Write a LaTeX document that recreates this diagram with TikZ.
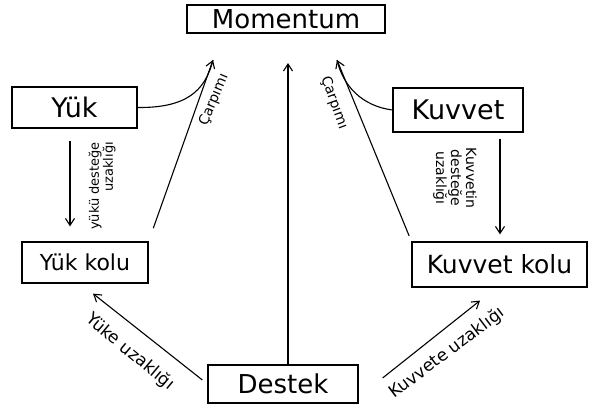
\documentclass[tikz,border=0pt]{standalone}
\usepackage{fontspec}
\setmainfont{DejaVu Sans}
\usetikzlibrary{arrows.meta}
\begin{document}
\begin{tikzpicture}[x=1pt,y=-1pt,
  box/.style={draw,line width=1.2pt,inner sep=0pt,anchor=center},
  arr/.style={line width=1.1pt,-{Straight Barb[length=7pt,width=9pt,line width=1.1pt]}},
  ln/.style={line width=1.1pt},
  lbl/.style={inner sep=0pt,font=\fontsize{13}{14}\selectfont}]
\useasboundingbox (0,0) rectangle (589,410);
\fill[white] (0,0) rectangle (589,410);
% boxes
\node[box,minimum width=198pt,minimum height=28pt,font=\fontsize{26}{27}\selectfont] (mom) at (286,19) {Momentum};
\node[box,minimum width=125pt,minimum height=41pt,font=\fontsize{27}{28}\selectfont] (yuk) at (74.5,107.5) {Yük};
\node[box,minimum width=130pt,minimum height=44pt,font=\fontsize{27}{28}\selectfont] (kuv) at (458,110) {Kuvvet};
\node[box,minimum width=126pt,minimum height=41pt,font=\fontsize{22}{23}\selectfont] (yukk) at (85,262.5) {Yük kolu};
\node[box,minimum width=175pt,minimum height=45pt,font=\fontsize{25}{26}\selectfont] (kuvk) at (499.5,264.5) {Kuvvet kolu};
\node[box,minimum width=150pt,minimum height=38pt,font=\fontsize{26}{27}\selectfont] (destek) at (283,384) {Destek};
% tips
\coordinate (tipC) at (288,63);
\coordinate (tipL) at (213,60);
\coordinate (tipR) at (337,60);
% central
\draw[arr] (destek.north -| tipC) -- (tipC);
% left product
\draw[arr,shorten <=14pt] (yukk.north east) -- (tipL);
\draw[ln] (yuk.east) .. controls (185,108) and (205,92) .. (tipL);
% right product
\draw[arr,shorten <=6pt] (kuvk.north west) -- (tipR);
\draw[ln] (kuv.west) .. controls (362,106) and (343,86) .. (tipR);
% down arrows
\draw[arr,shorten <=12pt,shorten >=15pt] ([xshift=-4.5pt]yuk.south) -- ([xshift=-4.5pt]yuk.south |- yukk.north);
\draw[arr,shorten <=6pt,shorten >=7pt] ([xshift=42pt]kuv.south) -- ([xshift=42pt]kuv.south |- kuvk.north);
% bottom arrows
\draw[arr] ([shift={(-5pt,4pt)}]destek.west) -- ([shift={(8pt,-10pt)}]yukk.south);
\draw[arr] ([shift={(24pt,6pt)}]destek.east) -- ([shift={(-19.5pt,-13pt)}]kuvk.south);
% labels
\node[lbl,rotate=67,font=\fontsize{14}{15}\selectfont] (cl) at (214,100) {Çarpımı};
\node[lbl,rotate=-70,font=\fontsize{14}{15}\selectfont] (cr) at (334,103) {Çarpımı};
\node[lbl,rotate=90,align=right] (l1) at (102,186) {yükü desteğe\\uzaklığı};
\node[lbl,rotate=-90,align=center,font=\fontsize{14}{15}\selectfont] (l2) at (455,178) {Kuvvetin\\desteğe\\uzaklığı};
\node[lbl,rotate=-40,font=\fontsize{17}{18}\selectfont] (l3) at (130,352) {Yüke uzaklığı};
\node[lbl,rotate=37,font=\fontsize{17}{18}\selectfont] (l4) at (447,353) {Kuvvete uzaklığı};
\end{tikzpicture}
\end{document}
